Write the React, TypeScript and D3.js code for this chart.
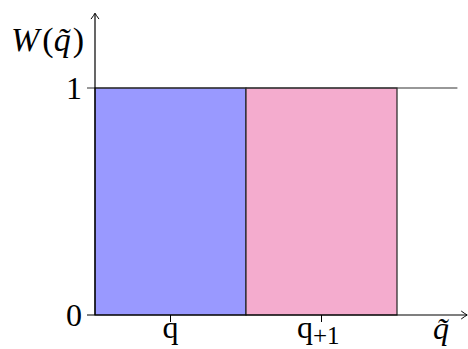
import React from "react";
import * as d3 from "d3";

const categories = ["q", "q+1"];
const values = [1, 1];
const colors = ["#9999ff", "#f4acce"];
const yTicks = [0, 1];

const W = 468;
const H = 349;
const FONT = "Liberation Serif";

export default function App() {
  const x = d3.scaleLinear().domain([0, 1]).range([95, 246]);
  const y = d3.scaleLinear().domain([0, 1]).range([315, 88]);
  const x0 = x(0);
  const y0 = y(0);
  const xEnd = x(2.465);
  const yTop = y(1.33);
  return (
    <svg width={W} height={H} style={{ position: "absolute", left: 0, top: 0, background: "#fff" }} fontFamily={FONT}>
      {categories.map((c, i) => (
        <rect
          key={c}
          x={x(i)}
          y={y(values[i])}
          width={x(i + 1) - x(i)}
          height={y(0) - y(values[i])}
          fill={colors[i]}
          stroke="#222"
          strokeWidth={1.2}
        />
      ))}
      <line x1={x0 - 8} x2={x(2.4)} y1={y(1)} y2={y(1)} stroke="#333" strokeWidth={1.2} />
      <line x1={x0 - 8} x2={xEnd - 1} y1={y0} y2={y0} stroke="#000" strokeWidth={1.2} />
      <path d={`M${xEnd - 6},${y0 - 4} Q${xEnd - 2},${y0 - 1} ${xEnd},${y0} Q${xEnd - 2},${y0 + 1} ${xEnd - 6},${y0 + 4}`} fill="none" stroke="#000" strokeWidth={1} />
      <line x1={x0} x2={x0} y1={y0} y2={yTop + 1} stroke="#000" strokeWidth={1.2} />
      <path d={`M${x0 - 4},${yTop + 6} Q${x0 - 1},${yTop + 2} ${x0},${yTop} Q${x0 + 1},${yTop + 2} ${x0 + 4},${yTop + 6}`} fill="none" stroke="#000" strokeWidth={1} />
      {categories.map((c, i) => (
        <line key={"t" + c} x1={x(i + 0.5)} x2={x(i + 0.5)} y1={y0} y2={y0 + 7} stroke="#000" strokeWidth={1} />
      ))}
      <text x={x(0.5)} y={y0 + 23} fontFamily={FONT} fontSize={32} textAnchor="middle">q</text>
      <text x={297} y={y0 + 23} fontFamily={FONT} fontSize={32}>
        q<tspan fontSize={25} dy={6}>+1</tspan>
      </text>
      {yTicks.map((t) => (
        <text key={"y" + t} x={x0 - 13} y={y(t) + 11} fontFamily={FONT} fontSize={32} textAnchor="end">{String(t)}</text>
      ))}
      <text x={11} y={51} fontFamily={FONT} fontSize={34}>
        <tspan fontStyle="italic">W</tspan>
        <tspan dx={3}>(</tspan>
        <tspan fontStyle="italic">q̃</tspan>
        <tspan dx={2}>)</tspan>
      </text>
      <text x={441} y={339} fontFamily={FONT} fontSize={32} fontStyle="italic" textAnchor="middle">q̃</text>
    </svg>
  );
}
